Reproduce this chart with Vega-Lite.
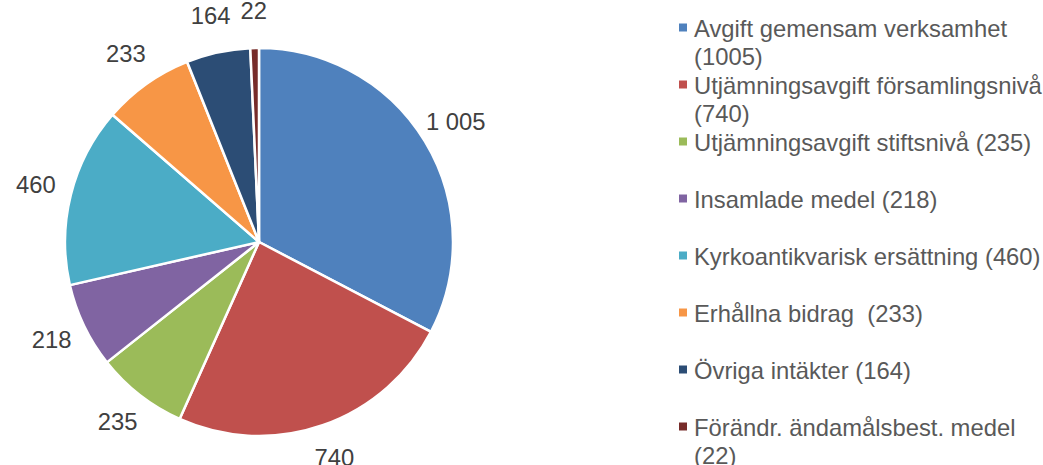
{
  "$schema": "https://vega.github.io/schema/vega-lite/v6.json",
  "padding": 0,
  "background": "white",
  "spacing": 161,
  "config": {"view": {"stroke": null}, "font": "Liberation Sans"},
  "datasets": {
    "income": [
      {"order": 1, "name": "Avgift gemensam verksamhet", "legend": "Avgift gemensam verksamhet\n(1005)", "value": 1005, "label": "1 005"},
      {"order": 2, "name": "Utjämningsavgift församlingsnivå", "legend": "Utjämningsavgift församlingsnivå\n(740)", "value": 740, "label": "740"},
      {"order": 3, "name": "Utjämningsavgift stiftsnivå", "legend": "Utjämningsavgift stiftsnivå (235)", "value": 235, "label": "235"},
      {"order": 4, "name": "Insamlade medel", "legend": "Insamlade medel (218)", "value": 218, "label": "218"},
      {"order": 5, "name": "Kyrkoantikvarisk ersättning", "legend": "Kyrkoantikvarisk ersättning (460)", "value": 460, "label": "460"},
      {"order": 6, "name": "Erhållna bidrag", "legend": "Erhållna bidrag\u00a0 (233)", "value": 233, "label": "233"},
      {"order": 7, "name": "Övriga intäkter", "legend": "Övriga intäkter (164)", "value": 164, "label": "164"},
      {"order": 8, "name": "Förändr. ändamålsbest. medel", "legend": "Förändr. ändamålsbest. medel\n(22)", "value": 22, "label": "22"}
    ]
  },
  "hconcat": [
    {
      "width": 518,
      "height": 484,
      "data": {"name": "income"},
      "encoding": {
        "theta": {"field": "value", "type": "quantitative", "stack": true},
        "order": {"field": "order", "type": "quantitative", "sort": "ascending"},
        "color": {
          "field": "name", "type": "nominal", "legend": null,
          "scale": {
            "domain": ["Avgift gemensam verksamhet", "Utjämningsavgift församlingsnivå", "Utjämningsavgift stiftsnivå", "Insamlade medel", "Kyrkoantikvarisk ersättning", "Erhållna bidrag", "Övriga intäkter", "Förändr. ändamålsbest. medel"],
            "range": ["#4F81BD", "#C0504D", "#9BBB59", "#8064A2", "#4BACC6", "#F79646", "#2C4D75", "#772C2A"]
          }
        }
      },
      "layer": [
        {"mark": {"type": "arc", "outerRadius": 194, "stroke": "white", "strokeWidth": 2.5}},
        {
          "mark": {"type": "text", "radius": 230, "fontSize": 23.8, "baseline": "middle", "align": "center"},
          "encoding": {
            "text": {"field": "label", "type": "nominal"},
            "color": {"value": "#404040"}
          }
        }
      ]
    },
    {
      "width": 364,
      "height": 484,
      "data": {"name": "income"},
      "encoding": {
        "x": {"datum": 0, "type": "quantitative", "scale": {"domain": [0, 1]}, "axis": null},
        "y": {"field": "name", "type": "nominal", "sort": {"field": "order"}, "scale": {"type": "point", "padding": 0, "range": [27.5, 426.5]}, "axis": null}
      },
      "layer": [
        {
          "mark": {"type": "point", "shape": "square", "filled": true, "size": 64, "opacity": 1},
          "encoding": {
            "color": {
              "field": "name", "type": "nominal", "legend": null,
              "scale": {
                "domain": ["Avgift gemensam verksamhet", "Utjämningsavgift församlingsnivå", "Utjämningsavgift stiftsnivå", "Insamlade medel", "Kyrkoantikvarisk ersättning", "Erhållna bidrag", "Övriga intäkter", "Förändr. ändamålsbest. medel"],
                "range": ["#4F81BD", "#C0504D", "#9BBB59", "#8064A2", "#4BACC6", "#F79646", "#2C4D75", "#772C2A"]
              }
            }
          }
        },
        {
          "mark": {"type": "text", "fontSize": 23.8, "align": "left", "baseline": "alphabetic", "dx": 11, "dy": 9, "lineBreak": "\n", "lineHeight": 28, "fill": "#595959"},
          "encoding": {"text": {"field": "legend", "type": "nominal"}}
        }
      ]
    }
  ]
}
